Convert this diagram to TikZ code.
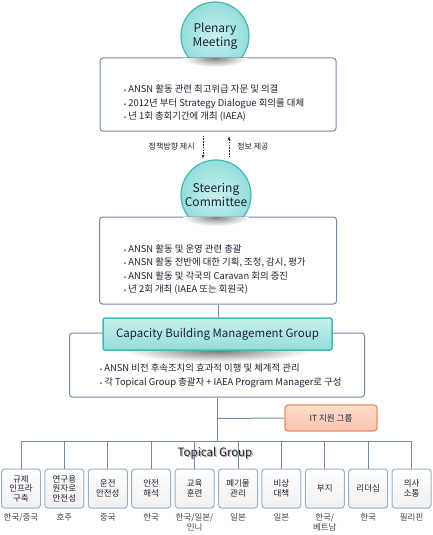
\documentclass[tikz,border=0pt]{standalone}
\usepackage{fontspec}
\setmainfont{Noto Sans CJK KR}
\usepackage{xcolor}
\usepackage{tikz}
\usetikzlibrary{arrows.meta,calc,shadings}
\definecolor{figline}{RGB}{118,138,165}
\definecolor{figtext}{RGB}{30,34,50}
\definecolor{tealin}{RGB}{198,241,239}
\definecolor{tealout}{RGB}{148,221,217}
\definecolor{tealedge}{RGB}{70,184,179}
\definecolor{itfill}{RGB}{254,222,206}
\definecolor{itfilb}{RGB}{251,196,172}
\definecolor{itedge}{RGB}{236,140,104}
\definecolor{tgedge}{RGB}{150,174,204}
\tikzset{
  ln/.style   ={draw=figline, line width=1pt},
  bx/.style   ={draw=figline, line width=1pt, fill=white, rounded corners=3pt},
  circ/.style ={circle, draw=tealedge, line width=1.2pt, inner color=tealin, outer color=tealout,
                align=center, text=figtext, font=\fontsize{12}{13.5}\selectfont, inner sep=0pt},
  cbm/.style  ={draw=tealedge, line width=1.5pt, rounded corners=2pt, top color=tealin, bottom color=tealout,
                text=figtext, font=\fontsize{11.5}{13}\selectfont},
  itb/.style  ={draw=itedge, line width=1.2pt, rounded corners=3pt, top color=itfill, bottom color=itfilb,
                text=figtext, font=\fontsize{8.5}{10}\selectfont},
  lab/.style  ={align=left, text=figtext, font=\fontsize{9.4}{13.6}\selectfont, inner sep=0pt, anchor=west},
  labs/.style ={text=figtext, font=\fontsize{8}{10}\selectfont, inner sep=1pt},
  ptr/.style  ={draw=figtext, line width=0.7pt, dash pattern=on 1.6pt off 1.2pt, -{Stealth[length=4pt,width=3pt]}},
  tgb/.style  ={draw=tgedge, line width=1pt, rounded corners=3pt, top color=white, bottom color=black!6,
                minimum width=39pt, minimum height=39pt, inner sep=0pt, align=center, text=figtext,
                font=\fontsize{8.5}{9.5}\selectfont},
  tgl/.style  ={anchor=north, align=center, inner sep=0pt, text=black!75, font=\fontsize{8.5}{10}\selectfont},
  tgt/.style  ={inner sep=0pt, font=\fontsize{11.5}{13}\selectfont},
}
\newcommand{\bul}{{\fontsize{6}{6}\selectfont\textbullet}\ }

\begin{document}
\begin{tikzpicture}[x=1pt,y=-1pt]
  \useasboundingbox (0,0) rectangle (433,535);
  % plenary meeting
  \node[circ, minimum size=68pt] (plen) at (215,36) {Plenary\\Meeting};
  \node[bx, minimum width=236pt, minimum height=73pt] (pbox) at (218,94.5) {};
  \begin{scope}
    \clip ([yshift=-0.6pt]pbox.north west) rectangle (pbox.south east);
    \shade[inner color=black!50, outer color=white] (215,58) ellipse (32 and 9);
  \end{scope}
  \node[lab] (ptxt) at (124,103) {\bul ANSN 활동 관련 최고위급 자문 및 의결\\
    \bul 2012년 부터 Strategy Dialogue 회의를 대체\\
    \bul 년 1회 총회기간에 개최 (IAEA)};
  % steering committee
  \node[circ, minimum size=70pt] (scom) at (216,195) {Steering\\Committee};
  \coordinate (dnA) at ($(scom.north |- pbox.south)+(-13,4)$);
  \coordinate (dnB) at ($(scom.north)+(-13,-1)$);
  \coordinate (upA) at ($(scom.north)+(13,-2)$);
  \coordinate (upB) at ($(scom.north |- pbox.south)+(13,5)$);
  \draw[ptr] (dnA) -- (dnB) node[midway, labs, left=7pt] (lbldn) {정책방향 제시};
  \draw[ptr] (upA) -- (upB) node[midway, labs, right=7pt] (lblup) {정보 제공};
  \node[bx, minimum width=237pt, minimum height=87pt] (sbox) at (218,260.5) {};
  \begin{scope}
    \clip ([yshift=-0.6pt]sbox.north west) rectangle (sbox.south east);
    \shade[inner color=black!50, outer color=white] (216,217) ellipse (33 and 9);
  \end{scope}
  \node[lab] (stxt) at (124,269.5) {\bul ANSN 활동 및 운영 관련 총괄\\
    \bul ANSN 활동 전반에 대한 기획, 조정, 감시, 평가\\
    \bul ANSN 활동 및 각국의 Caravan 회의 증진\\
    \bul 년 2회 개최 (IAEA 또는 회원국)};
  % capacity building management group
  \node[bx, minimum width=295pt, minimum height=64pt] (cbox) at (217,365) {};
  \node[cbm, minimum width=229pt, minimum height=32pt] (cbmg) at (217.5,334) {Capacity Building Management Group};
  \begin{scope}
    \clip ([yshift=-0.8pt]cbmg.south west) rectangle ([yshift=-12pt]cbmg.south east);
    \shade[inner color=black!55, outer color=white] (217.5,350) ellipse (95 and 12);
  \end{scope}
  \draw[ln] (sbox.south) -- (sbox.south |- cbmg.north);
  \node[lab] (ctxt) at (100,375.5) {\bul ANSN 비전 후속조치의 효과적 이행 및 체계적 관리\\
    \bul 각 Topical Group 총괄자 + IAEA Program Manager로 구성};
  % IT support and trunk
  \coordinate (itj) at ($(cbox.south)+(0,21)$);
  \coordinate (bus) at ($(cbox.south)+(0,44)$);
  \draw[ln] (cbox.south) -- (bus);
  \node[itb, minimum width=92pt, minimum height=26pt] (itg) at (331,418) {IT 지원 그룹};
  \draw[ln] (itj) -- (itg.west);
  % topical groups
  \foreach \k/\txt/\who in {
    0/{규제\\인프라\\구축}/{한국/중국},
    1/{연구용\\원자로\\안전성}/{호주},
    2/{운전\\안전성}/{중국},
    3/{안전\\해석}/{한국},
    4/{교육\\훈련}/{한국/일본/\\인니},
    5/{폐기물\\관리}/{일본},
    6/{비상\\대책}/{일본},
    7/{부지}/{한국/\\베트남},
    8/{리더십}/{한국},
    9/{의사\\소통}/{필리핀}}{
    \node[tgb] (tg\k) at (21+43.4*\k,488.5) {\txt};
    \node[tgl] (tgn\k) at (21+43.4*\k,513.5) {\who};
    \draw[ln] (tg\k.north |- bus) -- (tg\k.north);
  }
  \draw[ln] (tg0.north |- bus) -- (tg9.north |- bus);
  \node[tgt, text=black!35] (tgs) at (216.2,454.2) {Topical Group};
  \node[tgt, text=figtext] (tgtl) at (215,453) {Topical Group};
\end{tikzpicture}
\end{document}
